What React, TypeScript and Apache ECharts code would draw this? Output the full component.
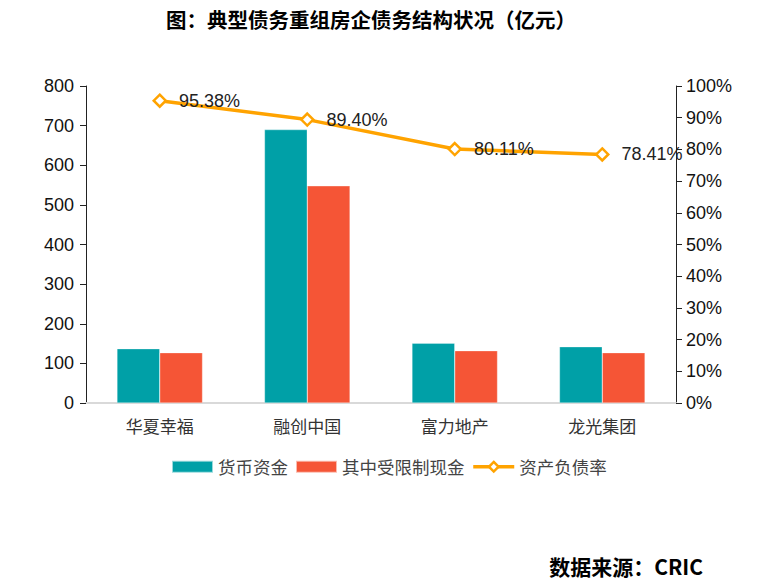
import React, { useEffect, useRef } from "react";
import * as echarts from "echarts";

const categories = ["华夏幸福", "融创中国", "富力地产", "龙光集团"];
const cashFunds = [137, 690, 151, 142];
const restrictedCash = [127, 548, 132, 127];
const debtRatio = [95.38, 89.4, 80.11, 78.41];

const TEAL = "#00A0A7";
const RED = "#F55536";
const GOLD = "#FFA300";
const NUM_FONT = "'Liberation Sans', Arial, sans-serif";
const CJK_FONT = "'Noto Sans CJK SC', sans-serif";

export default function App() {
  const ref = useRef<HTMLDivElement>(null);
  useEffect(() => {
    document.body.style.margin = "0";
    if (!ref.current) return;
    const chart = echarts.init(ref.current, undefined, { renderer: "svg" });
    chart.setOption({
      animation: false,
      backgroundColor: "#fff",
      title: {
        text: "图：典型债务重组房企债务结构状况（亿元）",
        left: 366,
        textAlign: "center",
        top: 4,
        textStyle: { fontFamily: CJK_FONT, fontSize: 20.5, fontWeight: "bold", color: "#000" },
      },
      graphic: [
        {
          type: "text",
          right: 65,
          top: 555,
          style: {
            text: "数据来源：CRIC",
            font: `bold 21px ${CJK_FONT}`,
            fill: "#000",
          },
        },
      ],
      legend: {
        top: 458,
        left: 171,
        padding: 0,
        itemWidth: 41,
        itemHeight: 12,
        itemGap: 7,
        textStyle: { fontFamily: CJK_FONT, fontSize: 17.5, color: "#444" },
        data: [
          { name: "货币资金", icon: "rect" },
          { name: "其中受限制现金", icon: "rect" },
          {
            name: "资产负债率",
            lineStyle: { width: 3.5, color: GOLD },
            itemStyle: { color: "#fff", borderColor: GOLD, borderWidth: 2.5 },
          },
        ],
      },
      grid: { left: 86, right: 92, top: 86, bottom: 183, containLabel: false },
      xAxis: {
        type: "category",
        data: categories,
        axisLine: { lineStyle: { color: "#d9d9d9", width: 2 } },
        axisTick: { show: false },
        axisLabel: { fontFamily: CJK_FONT, fontSize: 17, color: "#333", margin: 14 },
      },
      yAxis: [
        {
          type: "value",
          min: 0,
          max: 800,
          interval: 100,
          splitLine: { show: false },
          axisLine: { show: true, lineStyle: { color: "#222" } },
          axisTick: { show: true, length: 6, lineStyle: { color: "#222" } },
          axisLabel: { fontFamily: NUM_FONT, fontSize: 18, color: "#111", margin: 12 },
        },
        {
          type: "value",
          min: 0,
          max: 100,
          interval: 10,
          position: "right",
          splitLine: { show: false },
          axisLine: { show: true, lineStyle: { color: "#222" } },
          axisTick: { show: true, length: 6, lineStyle: { color: "#222" } },
          axisLabel: { fontFamily: NUM_FONT, fontSize: 18, color: "#111", margin: 10, formatter: "{value}%" },
        },
      ],
      series: [
        {
          name: "货币资金",
          type: "bar",
          data: cashFunds,
          barGap: "0%",
          barCategoryGap: "42%",
          itemStyle: { color: TEAL, borderColor: "rgba(255,255,255,0.6)", borderWidth: 0.5 },
        },
        {
          name: "其中受限制现金",
          type: "bar",
          data: restrictedCash,
          itemStyle: { color: RED, borderColor: "rgba(255,255,255,0.6)", borderWidth: 0.5 },
        },
        {
          name: "资产负债率",
          type: "line",
          yAxisIndex: 1,
          data: debtRatio,
          symbol: "diamond",
          symbolSize: 12,
          lineStyle: { color: GOLD, width: 3.5 },
          itemStyle: { color: "#fff", borderColor: GOLD, borderWidth: 2.5 },
          label: {
            show: true,
            position: "right",
            distance: 12,
            formatter: (p: any) => p.value.toFixed(2) + "%",
            fontFamily: NUM_FONT,
            fontSize: 18,
            color: "#222",
          },
          z: 5,
        },
      ],
    });
    return () => chart.dispose();
  }, []);
  return <div ref={ref} style={{ width: 768, height: 586 }} />;
}
